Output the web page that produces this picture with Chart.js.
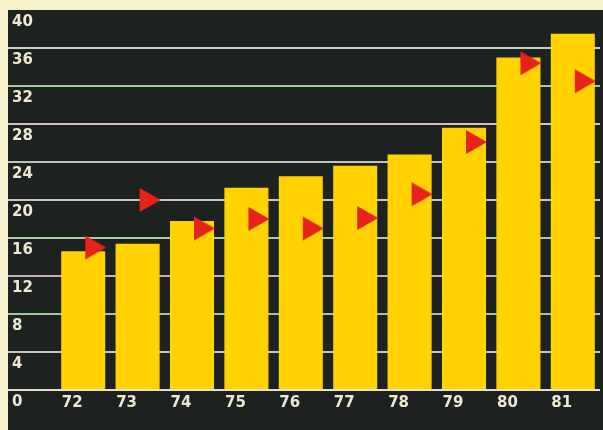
<!DOCTYPE html>
<html>
<head>
<meta charset="utf-8">
<title>72-81</title>
<script src="https://cdn.jsdelivr.net/npm/chart.js@4"></script>
<style>
  html, body { margin: 0; padding: 0; background: #f6f1cc; }
  canvas { display: block; }
</style>
</head>
<body>
<canvas id="chart" width="603" height="430"></canvas>
<script>
// Years along the bottom
var years = ["72", "73", "74", "75", "76", "77", "78", "79", "80", "81"];
// Yellow columns
var barValues = [14.6, 15.4, 17.8, 21.3, 22.5, 23.6, 24.8, 27.6, 35.0, 37.5];
// Red markers
var markerValues = [15.0, 20.0, 17.0, 18.0, 17.0, 18.1, 20.6, 26.1, 34.4, 32.5];
// Left axis
var yMin = 0, yMax = 40, yStep = 4;

// One rule colour per tick from 0 up to 40 (top edge left dark)
var gridColors = ["#e6e0c6", "#c4c8b8", "#9ec89a", "#c8b0b4", "#aacca6",
                  "#cdc4c0", "#c0c4b6", "#d2c2c8", "#a2cca0", "#c4d2bc", "rgba(0,0,0,0)"];

var labelFont = { family: "'DejaVu Sans', sans-serif", size: 15, weight: "bold" };

// Right-pointing triangle drawn a little right of the point centre
function makeMarker() {
    var c = document.createElement("canvas");
    c.width = 50;
    c.height = 30;
    var g = c.getContext("2d");
    var cx = 34, cy = 15, r = 14;
    g.fillStyle = "#e5231b";
    g.beginPath();
    g.moveTo(cx + r, cy);
    g.lineTo(cx - r / 2, cy - r * 0.866);
    g.lineTo(cx - r / 2, cy + r * 0.866);
    g.closePath();
    g.fill();
    return c;
}

// Cream surround with the dark panel inset from the top and left
var panelPlugin = {
    id: "panel",
    beforeDraw: function (chart) {
        var ctx = chart.ctx;
        ctx.save();
        ctx.fillStyle = "#f6f1cc";
        ctx.fillRect(0, 0, chart.width, chart.height);
        ctx.fillStyle = "#1d211f";
        ctx.fillRect(8, 10, chart.width - 8, chart.height - 10);
        ctx.restore();
    }
};

// Labels may hang over the plot edges, so no extra room is reserved for them
function noEdgePadding(scale) {
    scale.paddingLeft = 0;
    scale.paddingRight = 0;
    scale.paddingTop = 0;
    scale.paddingBottom = 0;
}

var ctx = document.getElementById("chart").getContext("2d");
new Chart(ctx, {
    type: "bar",
    data: {
        labels: years,
        datasets: [{
            type: "line",
            data: markerValues,
            showLine: false,
            pointStyle: makeMarker(),
            pointRadius: 14,
            pointHoverRadius: 14,
            clip: false,
            order: 0
        }, {
            type: "bar",
            data: barValues,
            backgroundColor: "#ffd200",
            borderWidth: 0,
            barPercentage: 0.81,
            categoryPercentage: 1.0,
            order: 1
        }]
    },
    options: {
        responsive: false,
        animation: false,
        layout: {
            autoPadding: false,
            padding: { left: 12, right: 3, top: 10, bottom: 14 }
        },
        plugins: {
            legend: { display: false },
            tooltip: { enabled: false }
        },
        scales: {
            x: {
                afterFit: noEdgePadding,
                grid: { display: false, drawTicks: false },
                border: { display: false },
                ticks: {
                    color: "#ece8d2",
                    font: labelFont,
                    padding: 4,
                    labelOffset: -11,
                    maxRotation: 0
                }
            },
            y: {
                min: yMin,
                max: yMax,
                afterFit: function (scale) {
                    noEdgePadding(scale);
                    scale.width = 44;
                },
                grid: {
                    color: function (c) {
                        return gridColors[c.index] || "#c4c8b8";
                    },
                    lineWidth: 2,
                    drawTicks: true,
                    tickLength: 48
                },
                border: { display: false },
                ticks: {
                    stepSize: yStep,
                    color: "#ece8d2",
                    font: labelFont,
                    crossAlign: "far",
                    labelOffset: 12
                }
            }
        }
    },
    plugins: [panelPlugin]
});
</script>
</body>
</html>
